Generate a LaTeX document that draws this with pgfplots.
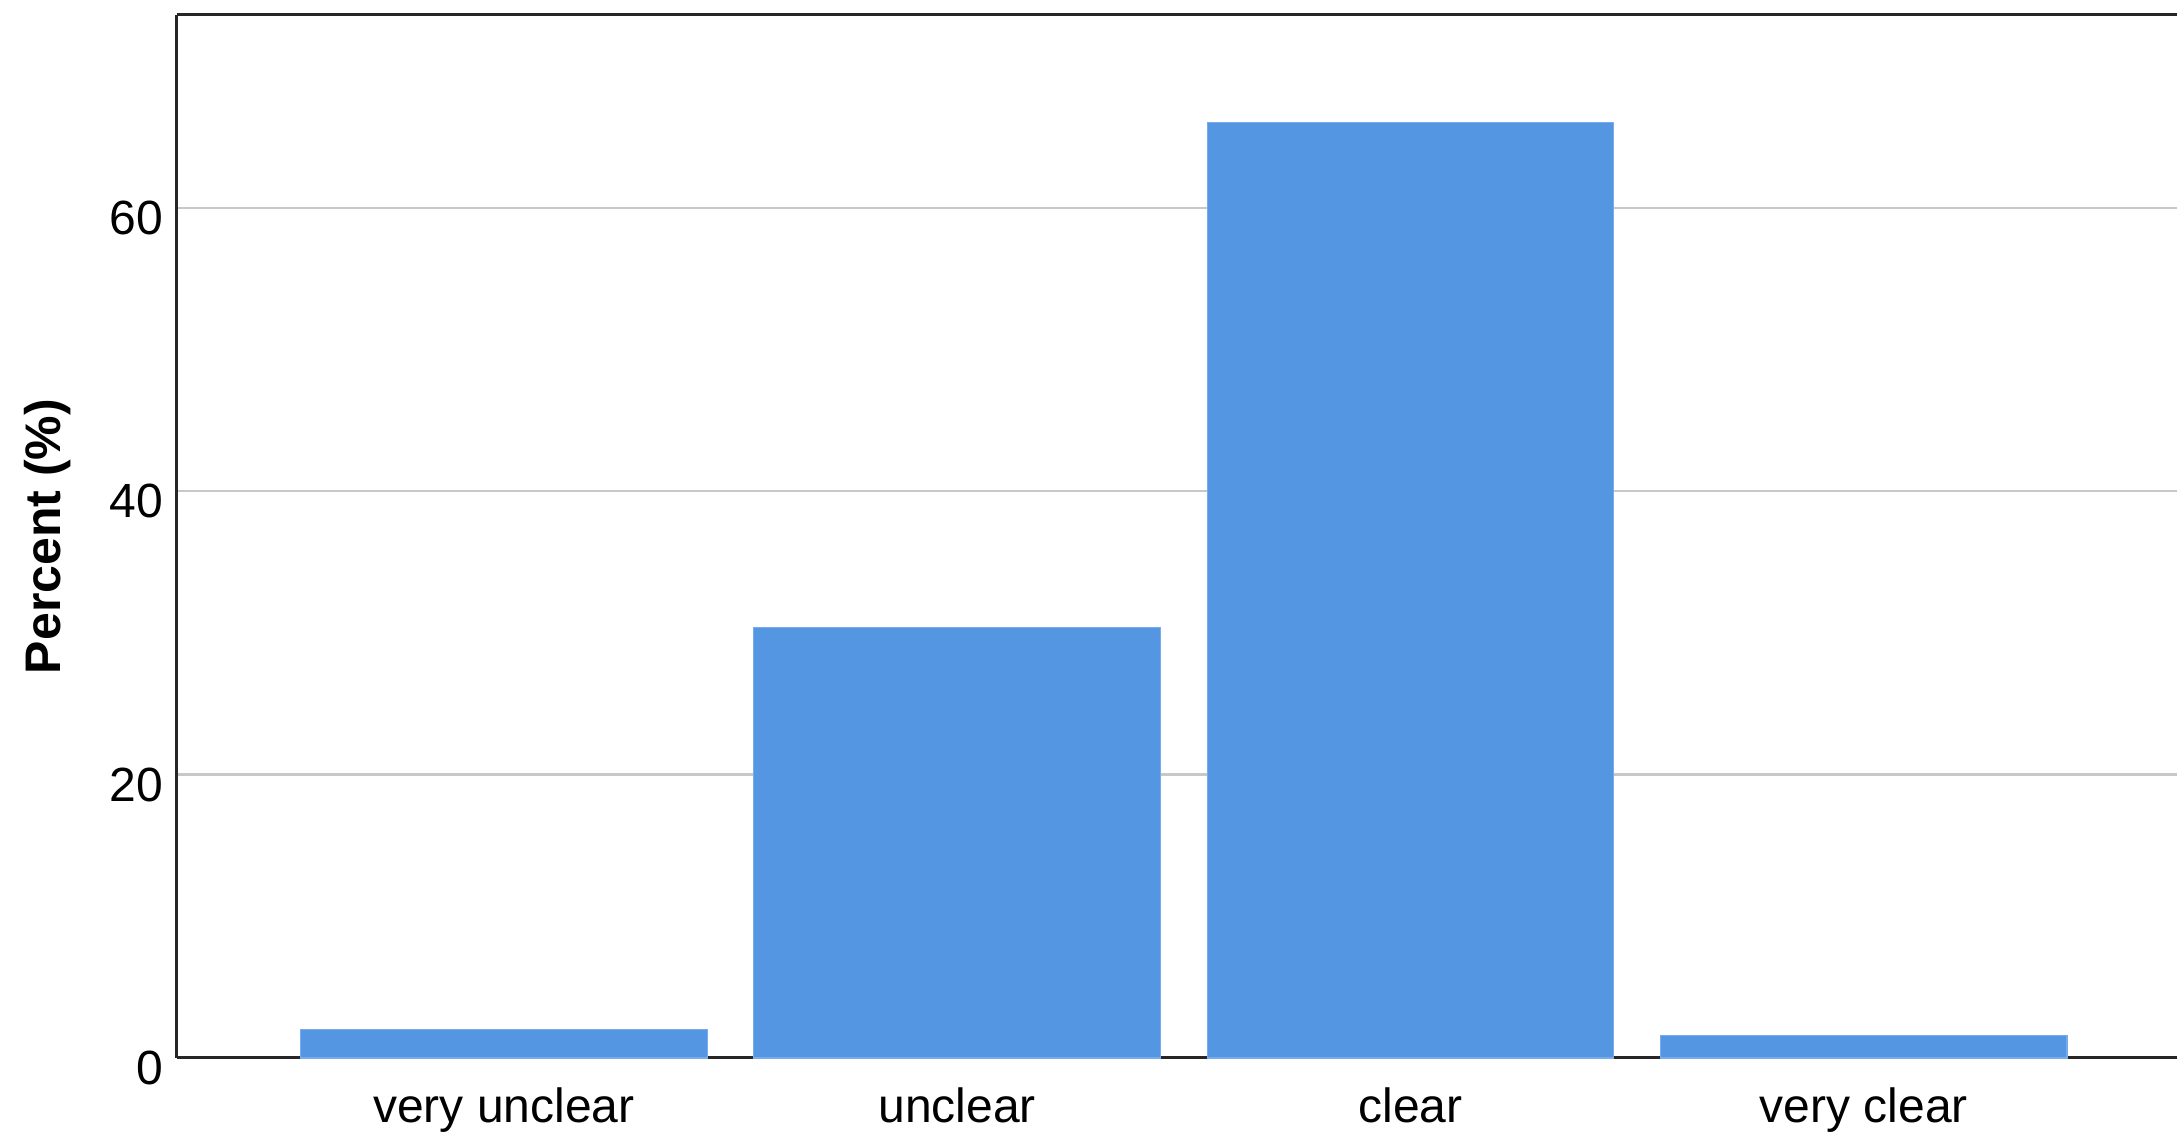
\documentclass[border=0pt]{standalone}
\usepackage{pgfplots}
\pgfplotsset{compat=1.18}
\usepackage{fontspec}
\setmainfont{Liberation Sans}
\definecolor{barblue}{RGB}{85,150,227}
\definecolor{gridgray}{RGB}{200,200,200}
\begin{document}
\begin{tikzpicture}
\begin{axis}[
  scale only axis,
  width=500pt, height=260.75pt,
  xmin=-0.721, xmax=3.691,
  ymin=0, ymax=73.6,
  axis x line*=box,
  axis y line*=left,
  axis line style={black!85, line width=0.75pt},
  xtick={0,1,2,3},
  xticklabels={very unclear, unclear, clear, very clear},
  ytick={0,20,40,60},
  major tick length=0pt,
  ymajorgrids,
  grid style={gridgray, line width=0.55pt},
  /pgf/number format/assume math mode=true,
  tick label style={font=\fontsize{12}{14}\selectfont},
  xticklabel style={yshift=-3.8pt},
  yticklabel style={yshift=-2.5pt},
  ylabel={\bfseries Percent (\%)},
  ylabel style={font=\fontsize{12.5}{15}\selectfont, yshift=2.8pt},
  ybar, bar width=0.897,
  clip=false,
]
\addplot[fill=barblue, draw=barblue!80!white, line width=0.3pt] coordinates {
  (0,2.0) (1,30.4) (2,66.0) (3,1.6)
};
\end{axis}
\pgfresetboundingbox
\path ([xshift=-44.25pt,yshift=-18.5pt]current axis.south west) rectangle ([yshift=3.75pt]current axis.north east);
\end{tikzpicture}
\end{document}
